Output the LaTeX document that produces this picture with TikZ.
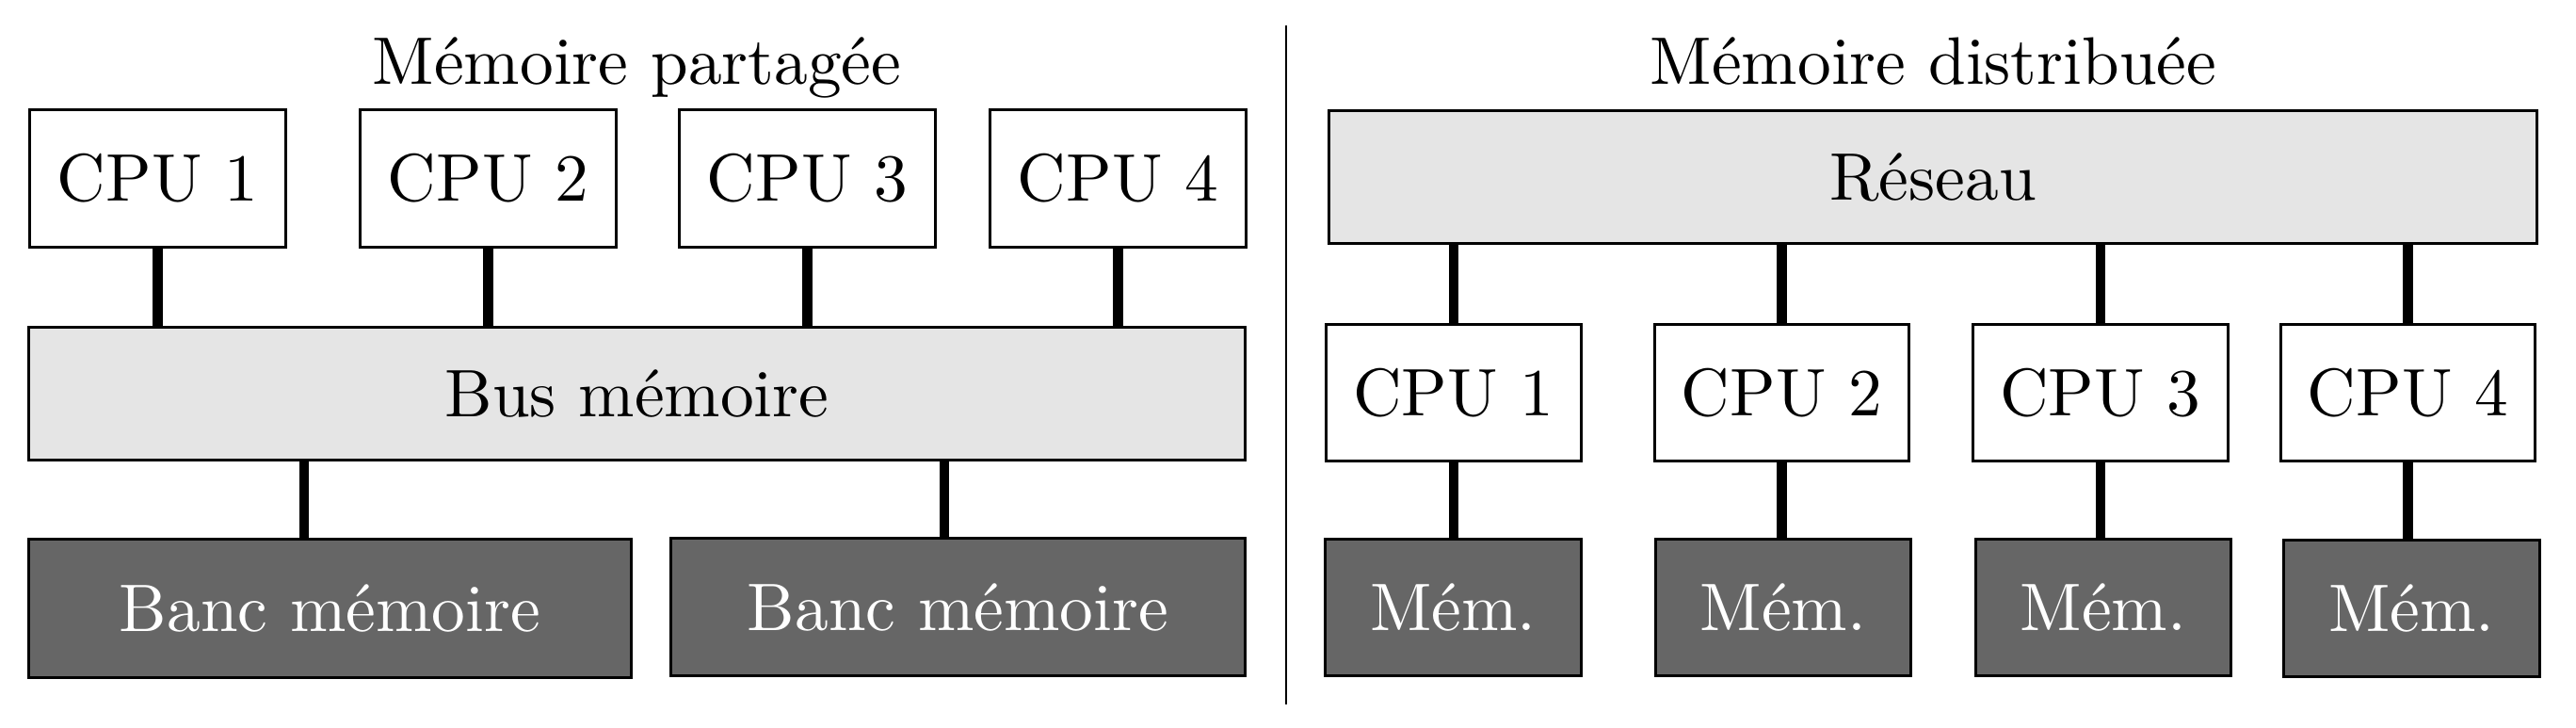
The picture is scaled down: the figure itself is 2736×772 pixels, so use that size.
\documentclass[tikz,border=0pt]{standalone}
\usepackage{graphicx}
\definecolor{busgray}{RGB}{229,229,229}
\definecolor{memgray}{RGB}{102,102,102}
\newcommand{\tx}[1]{\scalebox{2.03}{#1}}
\tikzset{
  box/.style={draw=black, line width=0.85pt, inner sep=0pt, outer sep=0pt, anchor=center},
  cpubox/.style={box, fill=white, minimum width=2.72cm, minimum height=1.45cm},
  busbox/.style={box, fill=busgray, minimum height=1.40cm},
  membox/.style={box, fill=memgray, text=white, minimum height=1.46cm},
  link/.style={line width=3pt, draw=black},
  divider/.style={line width=0.7pt, draw=black},
  title/.style={inner sep=0pt, anchor=base}
}
\begin{document}
\begin{tikzpicture}[x=0.01cm, y=-0.01cm]
\useasboundingbox (0,0) rectangle (2736,772);
% Left: shared memory
\node[title] (ltitle) at (676.5,89) {\tx{Mémoire partagée}};
\node[cpubox] (lc1) at (167.5,189.5) {\tx{CPU 1}};
\node[cpubox] (lc2) at (518.5,189.5) {\tx{CPU 2}};
\node[cpubox] (lc3) at (857.5,189.5) {\tx{CPU 3}};
\node[cpubox] (lc4) at (1187.5,189.5) {\tx{CPU 4}};
\node[busbox, minimum width=12.91cm] (lbus) at (676.5,418) {\tx{Bus mémoire}};
\node[membox, minimum width=6.39cm] (lb1) at (350.5,646) {\tx{Banc mémoire}};
\node[membox, minimum width=6.09cm] (lb2) at (1017.5,644.5) {\tx{Banc mémoire}};
\foreach \c in {lc1,lc2,lc3,lc4}
  \draw[link] (\c.south) -- (\c.south |- lbus.north);
\draw[link] (lbus.south -| 323,0) -- (lb1.north -| 323,0);
\draw[link] (lbus.south -| 1003,0) -- (lb2.north -| 1003,0);
% Divider
\coordinate (dtop) at (1366,27);
\coordinate (dbot) at (1366,748);
\draw[divider] (dtop) -- (dbot);
% Right: distributed memory
\node[title] (rtitle) at (2053.5,89) {\tx{Mémoire distribuée}};
\node[busbox, minimum width=12.82cm] (rnet) at (2053,188) {\tx{Réseau}};
\node[cpubox, minimum width=2.70cm, minimum height=1.44cm] (rc1) at (1544,417) {\tx{CPU 1}};
\node[cpubox, minimum width=2.70cm, minimum height=1.44cm] (rc2) at (1892.5,417) {\tx{CPU 2}};
\node[cpubox, minimum width=2.70cm, minimum height=1.44cm] (rc3) at (2231,417) {\tx{CPU 3}};
\node[cpubox, minimum width=2.70cm, minimum height=1.44cm] (rc4) at (2557.5,417) {\tx{CPU 4}};
\node[membox, minimum width=2.71cm, minimum height=1.44cm] (rm1) at (1543.5,645) {\tx{Mém.}};
\node[membox, minimum width=2.71cm, minimum height=1.44cm] (rm2) at (1894,645) {\tx{Mém.}};
\node[membox, minimum width=2.71cm, minimum height=1.44cm] (rm3) at (2234,645) {\tx{Mém.}};
\node[membox, minimum width=2.71cm, minimum height=1.44cm] (rm4) at (2561.5,646) {\tx{Mém.}};
\foreach \i in {1,2,3,4} {
  \draw[link] (rnet.south -| rc\i.north) -- (rc\i.north);
  \draw[link] (rc\i.south) -- (rm\i.north -| rc\i.south);
}
\end{tikzpicture}
\end{document}
